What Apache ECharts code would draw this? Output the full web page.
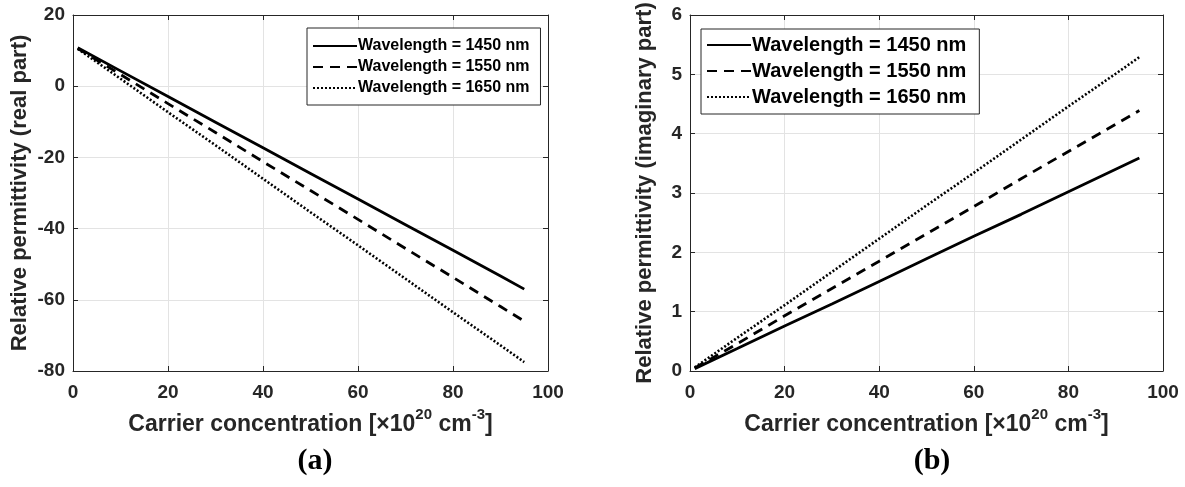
<!DOCTYPE html>
<html><head><meta charset="utf-8">
<script src="https://cdn.jsdelivr.net/npm/echarts@6/dist/echarts.min.js"></script>
<style>html,body{margin:0;padding:0;background:#fff}#c{width:1185px;height:487px}</style>
</head><body><div id="c"></div>
<script>
const xValues = [1, 10, 20, 30, 40, 50, 60, 70, 80, 90, 95];
const seriesNames = ['Wavelength = 1450 nm', 'Wavelength = 1550 nm', 'Wavelength = 1650 nm'];
const real1450 = [10.8, 4.3, -2.9, -10.1, -17.3, -24.5, -31.7, -38.9, -46.1, -53.3, -57.0];
const real1550 = [10.6, 3.3, -4.9, -13.0, -21.2, -29.3, -37.4, -45.6, -53.7, -61.9, -66.0];
const real1650 = [10.5, 2.1, -7.3, -16.6, -26.0, -35.4, -44.7, -54.1, -63.5, -72.8, -77.5];
const imag1450 = [0.04, 0.38, 0.76, 1.13, 1.51, 1.89, 2.27, 2.64, 3.02, 3.40, 3.59];
const imag1550 = [0.05, 0.46, 0.93, 1.39, 1.85, 2.31, 2.77, 3.24, 3.70, 4.16, 4.39];
const imag1650 = [0.06, 0.56, 1.11, 1.67, 2.23, 2.79, 3.34, 3.90, 4.46, 5.01, 5.29];
const panelLabels = ['(a)', '(b)'];
const xAxisTitle = '{a|Carrier concentration [×10}{s|20}{a| cm}{s|-3}{a|]}';
const yTitles = ['Relative permittivity (real part)', 'Relative permittivity (imaginary part)'];

const pair = (ys) => xValues.map((x, i) => [x, ys[i]]);
const ink = '#262626';
const font = 'Liberation Sans, Arial, sans-serif';
const styles = [
  {type: 'solid', width: 2.8},
  {type: [10, 7], width: 2.8},
  {type: [2, 2], width: 2.6}
];

function mkX(gi, showLabel, pos) {
  return {
    type: 'value', gridIndex: gi, min: 0, max: 100, interval: 20, position: pos,
    axisLine: {show: true, onZero: false, lineStyle: {color: ink, width: 1}},
    axisTick: {show: true, inside: true, length: 5, lineStyle: {color: ink}},
    axisLabel: {show: showLabel, color: ink, fontFamily: font, fontWeight: 'bold', fontSize: 19, margin: 12},
    splitLine: {show: showLabel, lineStyle: {color: '#e3e3e3', width: 1}},
    name: showLabel ? xAxisTitle : '', nameLocation: 'middle', nameGap: 12,
    nameTextStyle: {
      color: ink, fontFamily: font, fontWeight: 'bold',
      rich: {
        a: {fontSize: 23, fontFamily: font, fontWeight: 'bold', color: ink, lineHeight: 29, verticalAlign: 'bottom'},
        s: {fontSize: 15, fontFamily: font, fontWeight: 'bold', color: ink, lineHeight: 16, verticalAlign: 'top'}
      }
    }
  };
}
function mkY(gi, showLabel, pos, min, max, interval, name, gap) {
  return {
    type: 'value', gridIndex: gi, min: min, max: max, interval: interval, position: pos,
    axisLine: {show: true, onZero: false, lineStyle: {color: ink, width: 1}},
    axisTick: {show: true, inside: true, length: 5, lineStyle: {color: ink}},
    axisLabel: {show: showLabel, color: ink, fontFamily: font, fontWeight: 'bold', fontSize: 19, margin: 8},
    splitLine: {show: showLabel, lineStyle: {color: '#e3e3e3', width: 1}},
    name: showLabel ? name : '', nameLocation: 'middle', nameGap: gap,
    nameTextStyle: {color: ink, fontFamily: font, fontWeight: 'bold', fontSize: 22}
  };
}

const realData = [real1450, real1550, real1650];
const imagData = [imag1450, imag1550, imag1650];
const series = [];
[realData, imagData].forEach((set, gi) => {
  set.forEach((ys, k) => {
    series.push({
      name: seriesNames[k], type: 'line', xAxisIndex: gi * 2, yAxisIndex: gi * 2,
      data: pair(ys), showSymbol: false, symbol: 'none', silent: true, animation: false,
      lineStyle: {color: '#000', type: styles[k].type, width: styles[k].width},
      itemStyle: {color: '#000'}
    });
  });
});

const chart = echarts.init(document.getElementById('c'), null, {renderer: 'canvas'});
chart.setOption({
  backgroundColor: '#fff',
  animation: false,
  grid: [
    {left: 73, top: 15, width: 475, height: 356},
    {left: 690, top: 15, width: 473, height: 356}
  ],
  xAxis: [mkX(0, true, 'bottom'), mkX(0, false, 'top'), mkX(1, true, 'bottom'), mkX(1, false, 'top')],
  yAxis: [
    mkY(0, true, 'left', -80, 20, 20, yTitles[0], 42), mkY(0, false, 'right', -80, 20, 20, '', 0),
    mkY(1, true, 'left', 0, 6, 1, yTitles[1], 34), mkY(1, false, 'right', 0, 6, 1, '', 0)
  ],
  legend: [
    {
      left: 307, top: 28, orient: 'vertical', data: seriesNames,
      backgroundColor: '#fff', borderColor: ink, borderWidth: 1, padding: [10, 11, 9, 5],
      itemWidth: 44, itemHeight: 16, itemGap: 5, selectedMode: false,
      itemStyle: {opacity: 0},
      textStyle: {color: '#000', fontFamily: font, fontWeight: 'bold', fontSize: 16, padding: [0, 0, 0, -4]}
    },
    {
      left: 701, top: 29, orient: 'vertical', data: seriesNames,
      backgroundColor: '#fff', borderColor: ink, borderWidth: 1, padding: [6, 13, 7, 5],
      itemWidth: 44, itemHeight: 18, itemGap: 6, selectedMode: false,
      itemStyle: {opacity: 0},
      textStyle: {color: '#000', fontFamily: font, fontWeight: 'bold', fontSize: 20, padding: [0, 0, 0, -4]}
    }
  ],
  title: [
    {text: panelLabels[0], left: 310, top: 441, textAlign: 'center',
     textStyle: {fontFamily: 'Liberation Serif, Times New Roman, serif', fontWeight: 'bold', fontSize: 30, color: '#000'}},
    {text: panelLabels[1], left: 927, top: 441, textAlign: 'center',
     textStyle: {fontFamily: 'Liberation Serif, Times New Roman, serif', fontWeight: 'bold', fontSize: 30, color: '#000'}}
  ],
  series: series
});
</script></body></html>
